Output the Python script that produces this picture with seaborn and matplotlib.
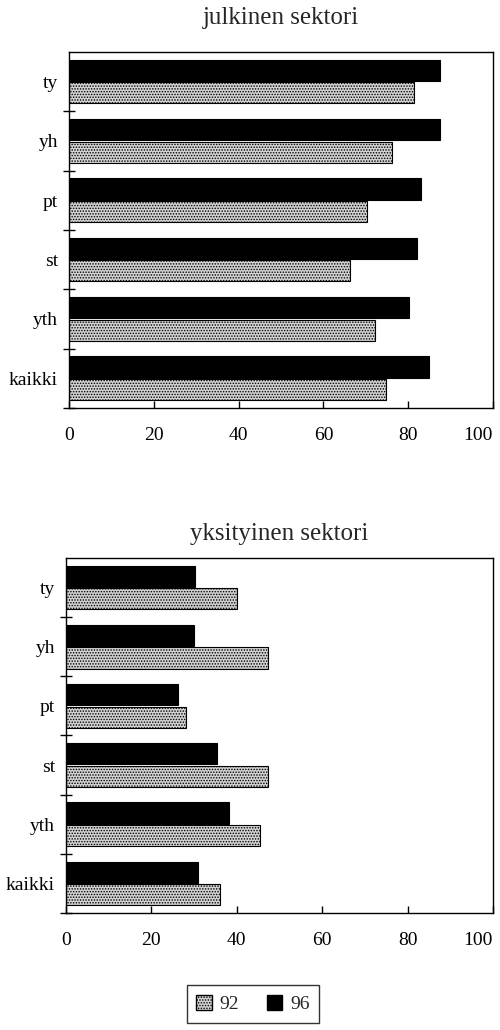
import numpy as np
import pandas as pd
import matplotlib
matplotlib.use("Agg")
import matplotlib.pyplot as plt
import seaborn as sns
from matplotlib.patches import Patch
from matplotlib.ticker import FixedLocator

categories = ["ty", "yh", "pt", "st", "yth", "kaikki"]
years = ["96", "92"]

# julkinen sektori
public_96 = [87.5, 87.5, 83, 82, 80.2, 85]
public_92 = [81.4, 76.2, 70.3, 66.3, 72.2, 74.8]

# yksityinen sektori
private_96 = [30.2, 30, 26.2, 35.4, 38.1, 30.9]
private_92 = [40, 47.3, 28, 47.3, 45.4, 36]

x_ticks = [0, 20, 40, 60, 80, 100]

sns.set_theme(style="white")
plt.rcParams["font.family"] = ["Liberation Serif", "DejaVu Serif"]
plt.rcParams["hatch.linewidth"] = 0.7

GREY = "#d2d2d2"


def long_table(v96, v92):
    rows = []
    for c, a, b in zip(categories, v96, v92):
        rows.append({"ryhma": c, "vuosi": "96", "osuus": a})
        rows.append({"ryhma": c, "vuosi": "92", "osuus": b})
    return pd.DataFrame(rows)


palette = {"96": "black", "92": GREY}

fig = plt.figure(figsize=(5, 10.3), dpi=100)
ax_top = fig.add_axes([0.138, 0.604, 0.848, 0.3456])
ax_bot = fig.add_axes([0.132, 0.1136, 0.854, 0.3447])

panels = [
    (ax_top, long_table(public_96, public_92), "julkinen sektori", 20),
    (ax_bot, long_table(private_96, private_92), "yksityinen sektori", 13),
]

for ax, df, title, tpad in panels:
    sns.barplot(data=df, y="ryhma", x="osuus", hue="vuosi", hue_order=years,
                order=categories, palette=palette, orient="h", width=0.76,
                gap=0.06, edgecolor="black", linewidth=0.8, ax=ax,
                legend=False, saturation=1)
    # stipple the 92 bars
    for bar in ax.containers[1]:
        bar.set_hatch("......")
    ax.set_xlim(0, 100)
    ax.set_ylim(len(categories) - 0.5, -0.5)
    ax.set_xticks(x_ticks)
    ax.set_xlabel("")
    ax.set_ylabel("")
    ax.set_title(title, fontsize=18, pad=tpad)
    ax.tick_params(axis="x", direction="in", length=5, width=1, labelsize=14,
                   pad=14, bottom=True, colors="black")
    ax.tick_params(axis="y", which="major", length=0, labelsize=14, pad=8,
                   colors="black")
    ax.yaxis.set_minor_locator(FixedLocator(np.arange(0.5, len(categories), 1)))
    ax.tick_params(axis="y", which="minor", direction="inout", length=8,
                   width=1, left=True, color="black")
    # last x label sits flush with the right edge, as in the original
    ax.get_xticklabels()[-1].set_horizontalalignment("right")
    for s in ax.spines.values():
        s.set_visible(True)
        s.set_color("black")
        s.set_linewidth(1)

handles = [
    Patch(facecolor=GREY, edgecolor="black", hatch="......", label="92"),
    Patch(facecolor="black", edgecolor="black", label="96"),
]
leg = fig.legend(handles=handles, loc="center", bbox_to_anchor=(0.506, 0.0255),
                 ncol=2, frameon=True, fancybox=False, fontsize=14,
                 handlelength=0.8, handleheight=0.8, handletextpad=0.4,
                 columnspacing=1.4, borderpad=0.5)
leg.get_frame().set_edgecolor("black")
leg.get_frame().set_linewidth(1)

fig.savefig("out.png", dpi=100)
